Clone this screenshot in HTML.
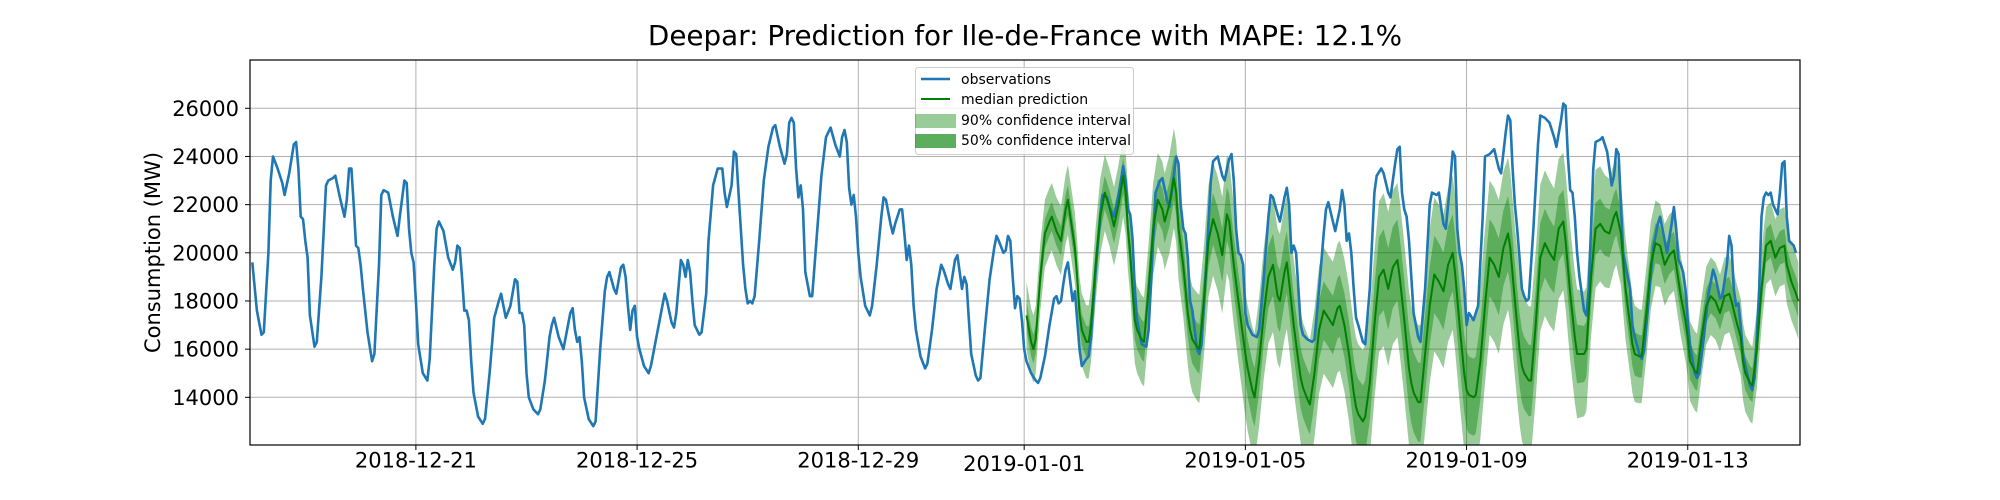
<!DOCTYPE html>
<html><head><meta charset="utf-8">
<style>
html,body{margin:0;padding:0;background:#fff;}
svg{display:block;font-family:"DejaVu Sans","Liberation Sans",sans-serif;}
</style></head>
<body>
<svg id="chart" width="2000" height="500" viewBox="0 0 2000 500">
<defs><clipPath id="plotclip"><rect x="250" y="60" width="1550" height="385"/></clipPath></defs>
<text x="1025" y="45" text-anchor="middle" font-size="27.8" fill="#000">Deepar: Prediction for Ile-de-France with MAPE: 12.1%</text>
<g id="grid"></g>
<g id="bands" clip-path="url(#plotclip)"></g>
<g id="lines" clip-path="url(#plotclip)"></g>
<g id="axes"></g>
<text transform="translate(160,252.5) rotate(-90)" text-anchor="middle" font-size="21" fill="#000">Consumption (MW)</text>
<g>
<rect x="915.5" y="67.5" width="218" height="87" rx="3" fill="#fff" fill-opacity="0.8" stroke="#cccccc"/>
<line x1="921" y1="79" x2="950" y2="79" stroke="#1f77b4" stroke-width="2.5"/>
<text x="961" y="84" font-size="14">observations</text>
<line x1="921" y1="99" x2="950" y2="99" stroke="#008000" stroke-width="2"/>
<text x="961" y="104" font-size="14">median prediction</text>
<rect x="915" y="114" width="41" height="14" fill="#008000" fill-opacity="0.4"/>
<text x="961" y="125" font-size="14">90% confidence interval</text>
<rect x="915" y="134" width="41" height="14" fill="#008000" fill-opacity="0.64"/>
<text x="961" y="145" font-size="14">50% confidence interval</text>
</g>
</svg>
<script>
// ---- data ----
const xTickLabels = ["2018-12-21","2018-12-25","2018-12-29","2019-01-01","2019-01-05","2019-01-09","2019-01-13"];
const xTickDays = [3,7,11,14,18,22,26];
const yTicks = [14000,16000,18000,20000,22000,24000,26000];
const tzShift = 1; // hours
// observations: hours within each day (day index from 2018-12-18) and values (MW)
const obsHours = [
[0,2,4,5,7,8,9,11,13,14,16,18,19,20,21,22,23],
[0,1,3,4,6,8,9,11,12,14,16,17,18,19,20,21,22,23],
[0,2,4,5,7,8,9,11,13,15,16,18,19,20,21,22,23],
[0,2,4,5,7,8,9,11,13,15,16,17,18,19,20,21,22,23],
[0,2,4,5,7,9,11,12,13,14,16,18,19,20,21,22,23],
[0,2,4,5,7,9,10,11,13,15,16,18,19,20,21,22,23],
[0,2,4,5,7,9,10,11,13,14,16,17,18,19,20,21,22,23],
[0,2,4,5,7,9,11,12,14,15,16,18,19,20,21,22,23],
[0,2,3,5,6,8,10,12,13,14,16,17,18,19,21,22,23],
[0,1,2,4,6,8,10,11,13,15,16,17,18,19,20,21,22,23],
[0,2,3,5,7,9,11,13,15,16,17,18,19,20,21,22,23],
[0,2,4,5,7,9,10,11,13,14,15,17,18,19,20,21,22,23],
[0,2,4,5,7,9,11,12,14,15,17,18,19,20,21,22,23],
[0,2,3,4,6,8,10,11,12,14,15,16,17,18,19,20,21,22,23],
[0,2,4,5,6,8,10,12,13,14,15,16,17,18,19,20,21,22,23],
[0,2,3,4,6,8,9,11,12,14,16,18,19,20,21,22,23],
[0,2,4,5,7,8,10,11,13,14,15,17,18,19,20,21,22,23],
[0,2,3,4,6,8,9,11,13,14,16,17,18,19,20,21,22,23],
[0,2,4,5,7,9,10,11,13,14,16,17,18,19,20,21,22,23],
[0,2,4,5,7,9,10,11,13,14,16,17,18,19,20,21,22,23],
[0,2,3,5,7,8,10,11,13,14,16,17,18,19,20,21,22,23],
[0,2,3,5,7,8,10,11,13,14,16,17,18,19,20,21,22,23],
[0,2,4,6,7,9,11,13,14,16,17,18,19,20,21,22,23],
[0,1,2,4,6,7,9,11,13,14,16,17,18,19,20,21,22,23],
[0,2,3,4,6,7,9,10,12,14,15,16,17,18,19,21,22,23],
[0,2,3,4,6,8,10,11,13,14,16,17,18,19,20,21,22,23],
[0,2,3,4,6,8,10,11,13,14,16,17,18,19,20,21,22,23],
[0,2,3,4,6,7,8,9,10,11,12,14,15,16,17,18,19,20,21,22]
];
const obsValues = [
[19600,17600,16600,16700,20000,23000,24000,23500,22900,22400,23300,24500,24600,23500,21500,21400,20500],
[19800,17400,16100,16300,19000,22800,23000,23100,23200,22300,21500,22200,23500,23500,22000,20300,20200,19500],
[18500,16700,15500,15800,19500,22400,22600,22500,21500,20700,21500,23000,22900,21000,20000,19600,18000],
[16200,15000,14700,15600,19500,21000,21300,20900,19800,19300,19600,20300,20200,19000,17600,17600,17200,15500],
[14200,13200,12900,13100,15000,17300,18000,18300,17800,17300,17800,18900,18800,17500,17500,17000,15000],
[14000,13500,13300,13500,14700,16500,17000,17300,16500,16000,16500,17500,17700,16800,16300,16500,15500],
[14000,13100,12800,13000,16000,18400,19000,19200,18500,18300,19400,19500,19000,17800,16800,17600,17800,16500],
[16000,15300,15000,15300,16300,17300,18300,18000,17100,16900,17500,19700,19500,19000,19700,19200,18000],
[17000,16600,16700,18300,20500,22800,23500,23500,22500,21900,22800,24200,24100,22500,19500,18500,17900],
[18000,17900,18200,20500,23000,24400,25200,25300,24400,23700,24100,25400,25600,25400,23500,22300,22800,21800],
[19200,18200,18200,20700,23200,24800,25200,24500,24000,24800,25100,24600,22700,22000,22400,21500,20000],
[19000,17800,17400,17800,19500,21500,22300,22200,21200,20800,21200,21800,21800,20800,19700,20300,19500,17800],
[16800,15700,15200,15400,16800,18500,19500,19300,18700,18500,19700,19900,19200,18500,19000,18700,17200],
[15800,14900,14700,14800,16900,18900,20200,20700,20500,20000,20100,20700,20500,19000,17700,18200,18100,17200,16000],
[15500,15000,14700,14600,14800,15700,17000,18100,18200,17900,18000,18700,19300,19600,18800,18000,18400,17200,16000],
[15300,15600,15700,16500,19200,21500,22400,22300,21900,21500,22400,23600,23000,21800,21600,20600,18500],
[17200,16200,16100,16800,20500,22500,23000,23100,22200,21900,22500,24000,23700,21900,21000,20800,19800,18000],
[17600,16000,15800,16200,19500,23000,23800,24000,23200,23000,23900,24100,23000,21000,20000,19900,19500,17500],
[17000,16600,16500,16800,19000,21500,22400,22300,21600,21300,22300,22700,22000,20000,20300,20000,18500,17000],
[16600,16400,16300,16400,18500,20800,21800,22100,21300,20900,21800,22600,22000,20500,20800,20000,18500,17300],
[17000,16300,16200,18500,22500,23200,23500,23300,22500,22300,23700,24300,24400,22500,21800,21500,20500,19000],
[17500,16500,16300,18500,22000,22500,22400,22500,21200,21000,23000,24200,24000,21000,20000,19500,18500,17000],
[17500,17200,17800,21500,24000,24100,24300,23500,23300,25000,25700,25500,23500,22000,21000,19800,18500],
[18200,18000,18100,21000,24500,25700,25600,25400,24800,24400,25500,26200,26100,24000,22600,22500,21500,20000],
[19000,17600,17400,18500,23500,24600,24700,24800,24200,22800,23200,24300,24100,22000,20000,19000,18500,17000],
[16500,15800,15600,15900,18000,20200,21200,21500,20500,20000,21200,21900,21000,19700,19500,19200,18500,17200],
[16200,15000,14800,15000,16500,18300,19300,19000,18100,18200,19500,20700,20300,18500,17800,17900,17000,15800],
[15300,14500,14300,14800,18500,21500,22300,22500,22400,22500,22000,21600,22500,23700,23800,21500,20500,20400,20300,20000]
];
// prediction (days 14..27)
const predFirstDay = 14;
const predHours = [
[0,2,3,4,6,8,10,11,13,15,17,18,19,21,22,23],
[0,2,3,4,6,8,10,12,14,16,18,19,20,21,22,23],
[0,2,3,5,7,9,11,12,14,16,17,18,20,22,23],
[0,2,3,5,7,9,11,13,15,16,18,20,22,23],
[0,2,3,5,7,9,11,13,14,16,17,18,20,22,23],
[0,2,3,5,7,9,11,13,15,16,18,20,22,23],
[0,2,3,5,7,9,11,13,15,17,18,20,22,23],
[0,2,3,5,7,9,11,13,15,17,18,20,22,23],
[0,2,3,5,7,9,11,13,15,17,18,20,22,23],
[0,2,3,5,7,9,11,13,15,17,18,20,22,23],
[0,2,3,5,7,9,11,13,15,16,18,20,22,23],
[0,2,3,5,7,9,11,13,15,17,18,20,22,23],
[0,2,3,5,7,9,11,13,15,17,18,20,22,23],
[0,2,3,5,7,9,11,13,15,17,18,20,22,23]
];
const predMedian = [
[17400,16300,16000,16400,19000,20800,21300,21500,20900,20500,21800,22200,21500,20200,19000,17500],
[16800,16300,16300,17000,19500,21500,22500,21900,21100,22000,23200,22500,21000,20000,18500,17200],
[16800,16400,16300,18500,21000,22200,21800,21300,22000,23100,22500,21000,19500,17500,16800],
[16400,16100,16000,18000,20500,21400,20800,19900,21600,21300,19500,18000,16500,15800],
[15200,14300,14000,15500,17500,19000,19500,18200,18000,19200,19600,18800,17000,15500,14800],
[14400,13900,13700,15000,16800,17600,17300,17000,17700,17800,17000,15800,14200,13600],
[13300,13000,13200,14600,17000,19000,19300,18500,19400,19700,19000,17200,15200,14600],
[14200,13800,13800,15800,17800,19100,18800,18400,19500,20000,19200,17000,15000,14300],
[14100,14000,14100,15500,17800,19800,19500,19000,20200,20800,20200,18000,16000,15300],
[15000,14700,14700,17000,19800,20400,20000,19700,21000,21300,20500,18300,16500,15800],
[15800,15800,16000,19000,21000,21200,20900,20800,21500,21700,20800,18500,17000,16200],
[15800,15700,15700,17500,19500,20400,20300,19500,19900,20100,19500,18200,17200,16500],
[15500,15100,15000,16500,17800,18200,18000,17500,18200,18300,18000,17200,16500,15500],
[15000,14600,14500,16000,18500,20300,20500,19800,20200,20300,19500,18800,18300,18000]
];
const spread90 = [1400,1600,2000,2400,2800,2600,3200,3200,3200,3000,2300,1700,1600,1600];
const spread50 = [600,700,900,1100,1300,1200,1700,1600,1600,1400,1000,800,700,700];

// ---- scales ----
const X0=250, X1=1800, Y0=445, Y1=60;
const dayMin=0, dayMax=28.03, vMin=12020, vMax=28005;
function xs(d){return X0+(d-dayMin)/(dayMax-dayMin)*(X1-X0);}
function ys(v){return Y0-(v-vMin)/(vMax-vMin)*(Y0-Y1);}
const NS="http://www.w3.org/2000/svg";
function mk(tag,attrs,parent){const e=document.createElementNS(NS,tag);for(const k in attrs)e.setAttribute(k,attrs[k]);parent.appendChild(e);return e;}

const grid=document.getElementById('grid'), axes=document.getElementById('axes');
const bands=document.getElementById('bands'), lines=document.getElementById('lines');

yTicks.forEach((v,i)=>{
  const y=ys(v);
  const g=mk('line',{x1:X0,x2:X1,y1:y,y2:y,stroke:'#b0b0b0','stroke-width':1},grid);
  
  
  const t=mk('line',{x1:X0-5,x2:X0,y1:y,y2:y,stroke:'#000','stroke-width':1},axes);
  
  
  const l=mk('text',{x:239,y:y+7.5,'text-anchor':'end','font-size':21},axes);
  l.textContent=String(v);
  
  
});
xTickDays.forEach((d,i)=>{
  const x=xs(d);
  const g=mk('line',{x1:x,x2:x,y1:Y1,y2:Y0,stroke:'#b0b0b0','stroke-width':1},grid);
  
  
  const t=mk('line',{x1:x,x2:x,y1:Y0,y2:Y0+5,stroke:'#000','stroke-width':1},axes);
  
  
  const l=mk('text',{x:x,y:(xTickLabels[i]==="2019-01-01"?471:467.5),'text-anchor':'middle','font-size':21},axes);
  l.textContent=xTickLabels[i];
  
  
});
// spine box
const sp=mk('rect',{x:X0,y:Y1,width:X1-X0,height:Y0-Y1,fill:'none',stroke:'#000','stroke-width':1.2},axes);



// observations
const obsPts=[];
obsHours.forEach((hs,d)=>hs.forEach((h,j)=>obsPts.push([d+(h+tzShift)/24,obsValues[d][j]])));
// prediction points
const pred=[];
predHours.forEach((hs,k)=>hs.forEach((h,j)=>{
  const t=predFirstDay+k+(h+tzShift)/24;
  // interpolate spread across day centres
  const f=(h/24)-0.5; let k2=f<0?k-1:k+1; k2=Math.max(0,Math.min(spread90.length-1,k2));
  const w=Math.abs(f);
  const s9=spread90[k]*(1-w)+spread90[k2]*w, s5=spread50[k]*(1-w)+spread50[k2]*w;
  const m=predMedian[k][j];
  pred.push({t:t,m:m,s9:s9,s5:s5});
}));
function bandPath(key){
  let up=pred.map(p=>xs(p.t).toFixed(1)+','+ys(p.m+p[key]).toFixed(1));
  let lo=pred.slice().reverse().map(p=>xs(p.t).toFixed(1)+','+ys(p.m-p[key]).toFixed(1));
  return 'M'+up.join('L')+'L'+lo.join('L')+'Z';
}
const b90=mk('path',{d:bandPath('s9'),fill:'#008000','fill-opacity':0.4,stroke:'none'},bands);


const b50=mk('path',{d:bandPath('s5'),fill:'#008000','fill-opacity':0.4,stroke:'none'},bands);



const ob=mk('polyline',{points:obsPts.map(p=>xs(p[0]).toFixed(1)+','+ys(p[1]).toFixed(1)).join(' '),fill:'none',stroke:'#1f77b4','stroke-width':2.6,'stroke-linejoin':'round'},lines);


const md=mk('polyline',{points:pred.map(p=>xs(p.t).toFixed(1)+','+ys(p.m).toFixed(1)).join(' '),fill:'none',stroke:'#008000','stroke-width':2,'stroke-linejoin':'round'},lines);


</script>
</body></html>
